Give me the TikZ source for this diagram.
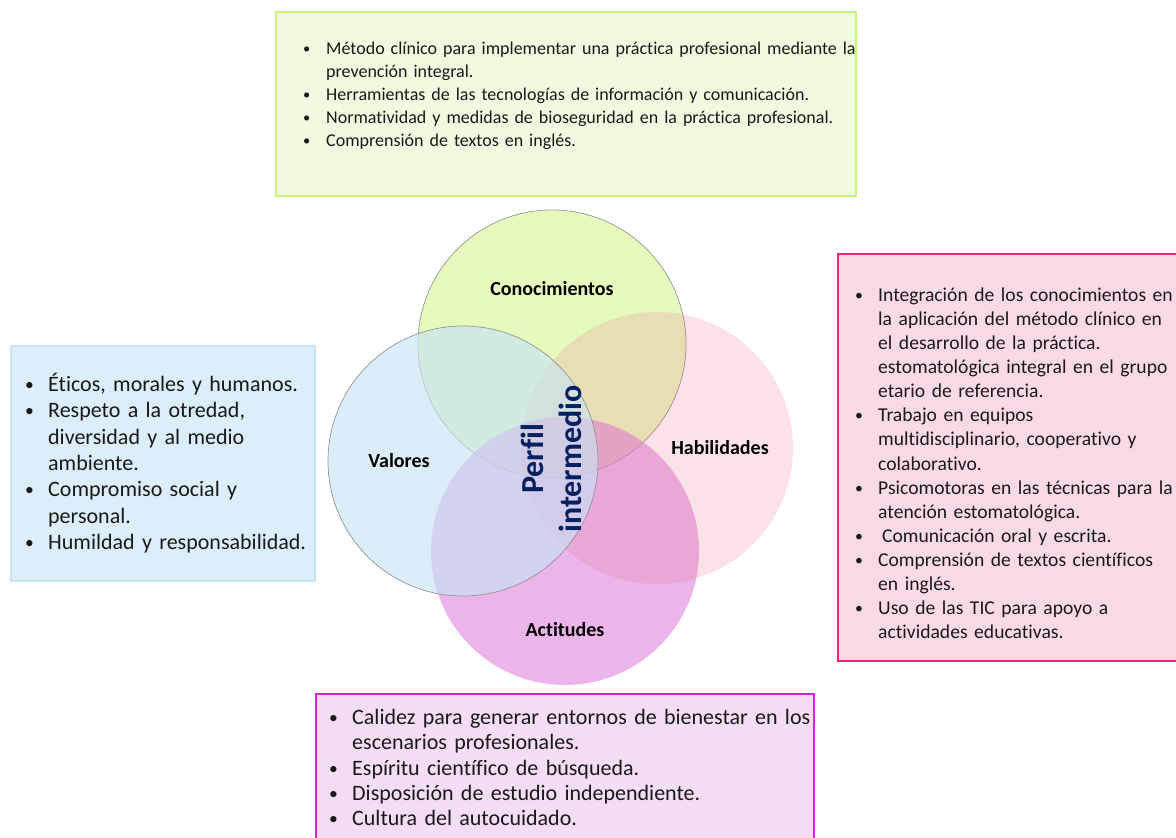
\documentclass[tikz,border=0pt]{standalone}
\usepackage{fontspec}
\setmainfont{Carlito}[Ligatures=NoCommon]
\usepackage{enumitem}
\usetikzlibrary{positioning,calc}
\definecolor{conFill}{RGB}{230,250,190}
\definecolor{valFill}{RGB}{200,227,247}
\definecolor{habFill}{RGB}{235,110,140}
\definecolor{actFill}{RGB}{223,130,223}
\definecolor{conBg}{RGB}{240,250,222}
\definecolor{conLine}{RGB}{204,245,120}
\definecolor{valBg}{RGB}{221,238,251}
\definecolor{valLine}{RGB}{200,228,250}
\definecolor{habBg}{RGB}{252,218,228}
\definecolor{habLine}{RGB}{232,40,120}
\definecolor{actBg}{RGB}{245,221,245}
\definecolor{actLine}{RGB}{206,40,206}
\definecolor{rim}{RGB}{150,150,150}
\definecolor{navy}{RGB}{0,32,96}
\definecolor{txt}{RGB}{25,25,25}
\setlist[itemize]{label=\raisebox{.05em}{\scalebox{.8}{\textbullet}},leftmargin=23pt,labelwidth=23pt,labelsep=0pt,align=left,itemsep=0pt,parsep=0pt,topsep=0pt,partopsep=0pt}

\begin{document}
\begin{tikzpicture}[x=1pt,y=-1pt,
	venn/.style={circle,inner sep=0pt,minimum size=#1},
	panel/.style={rectangle,inner sep=0pt,anchor=north west,line width=2pt},
	items/.style={anchor=north west,inner sep=0pt,text width=#1,text=txt,align=left},
	lbl/.style={font=\bfseries\fontsize{20}{24}\selectfont}]
	\useasboundingbox[fill=white] (0,0) rectangle (1176,838);
%	\draw[lightgray] (0,0) grid[step=50] (1176,838);
	% boxes
	\node[panel,fill=conBg,draw=conLine,minimum width=580pt,minimum height=184pt] (conBox) at (275,11) {};
	\node[panel,fill=valBg,draw=valLine,minimum width=304pt,minimum height=235pt] (valBox) at (10,345) {};
	\node[panel,fill=habBg,draw=habLine,minimum width=360pt,minimum height=407pt] (habBox) at (837,253) {};
	\node[panel,fill=actBg,draw=actLine,minimum width=498pt,minimum height=170pt] (actBox) at (315,693) {};
	\node[items=600pt,font=\fontsize{18}{23}\selectfont] (conList) at (303,31) {%
		\begin{itemize}
		\item Método clínico para implementar una práctica profesional mediante la\newline prevención integral.
		\item Herramientas de las tecnologías de información y comunicación.
		\item Normatividad y medidas de bioseguridad en la práctica profesional.
		\item Comprensión de textos en inglés.
		\end{itemize}};
	\node[items=320pt,font=\fontsize{22}{26.3}\selectfont] (valList) at (25,365) {%
		\begin{itemize}
		\item Éticos, morales y humanos.
		\item Respeto a la otredad,\newline diversidad y al medio\newline ambiente.
		\item Compromiso social y\newline personal.
		\item Humildad y responsabilidad.
		\end{itemize}};
	\node[items=360pt,font=\fontsize{19.6}{24.1}\selectfont] (habList) at (855,277) {%
		\begin{itemize}
		\item Integración de los conocimientos en\newline la aplicación del método clínico en\newline el desarrollo de la práctica.\newline estomatológica integral en el grupo\newline etario de referencia.
		\item Trabajo en equipos\newline multidisciplinario, cooperativo y\newline colaborativo.
		\item Psicomotoras en las técnicas para la\newline atención estomatológica.
		\item \hspace{4pt}Comunicación oral y escrita.
		\item Comprensión de textos científicos\newline en inglés.
		\item Uso de las TIC para apoyo a\newline actividades educativas.
		\end{itemize}};
	\node[items=520pt,font=\fontsize{22}{25.3}\selectfont] (actList) at (329,699) {%
		\begin{itemize}
		\item Calidez para generar entornos de bienestar en los\newline escenarios profesionales.
		\item Espíritu científico de búsqueda.
		\item Disposición de estudio independiente.
		\item Cultura del autocuidado.
		\end{itemize}};
	% circles
	\node[venn=268pt,fill=conFill,draw=rim,line width=.7pt] (con) at (552,344) {};
	\node[venn=268pt,fill=actFill,fill opacity=.6] (act) at (565,551) {};
	\node[venn=272pt,fill=habFill,fill opacity=.2] (hab) at (657,448) {};
	\node[venn=270pt,fill=valFill,fill opacity=.64,draw=rim,line width=.7pt] (val) at (463,461) {};
	\node[lbl] (conLbl) at ([yshift=55pt]con.center) {Conocimientos};
	\node[lbl] (valLbl) at ([xshift=-64pt]val.center) {Valores};
	\node[lbl] (habLbl) at ([xshift=63pt]hab.center) {Habilidades};
	\node[lbl] (actLbl) at ([yshift=-79pt]act.center) {Actitudes};
	\node[rotate=90,align=center,text=navy,font=\bfseries\fontsize{32}{38}\selectfont] (perfil) at (551,459) {Perfil\\intermedio};
\end{tikzpicture}
\end{document}
